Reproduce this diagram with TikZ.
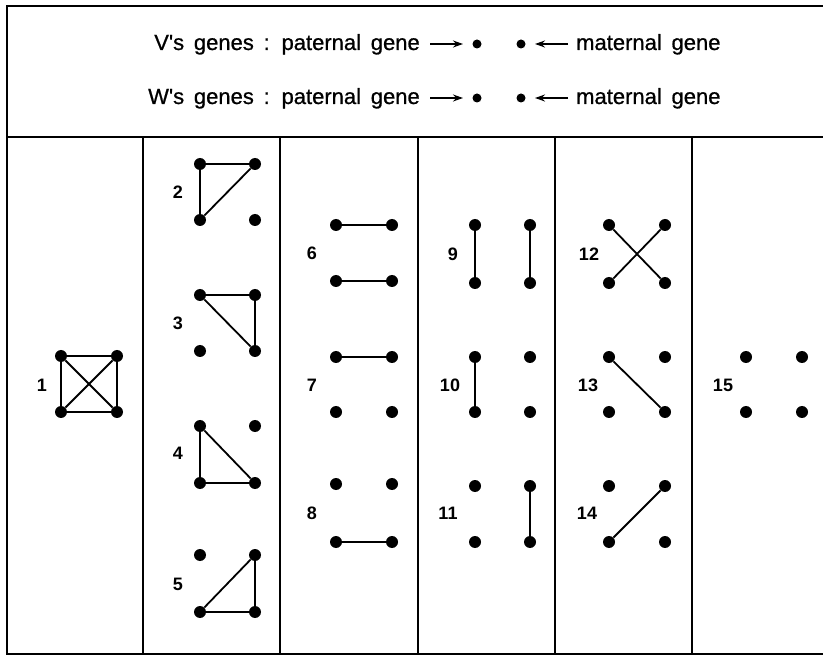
\documentclass[tikz,border=0pt]{standalone}
\usepackage{fontspec}
\setmainfont{Liberation Sans}
\newfontfamily\headfont[WordSpace=1.6,FakeBold=0.8]{Liberation Sans}
\usetikzlibrary{arrows.meta}

% four gene dots of one pattern: name, left x, right x, top y, bottom y
\newcommand\quadset[5]{%
  \node[gdot] (#1tl) at (#2,#4) {};
  \node[gdot] (#1tr) at (#3,#4) {};
  \node[gdot] (#1bl) at (#2,#5) {};
  \node[gdot] (#1br) at (#3,#5) {};
}

\begin{document}
\begin{tikzpicture}[x=1pt,y=-1pt,
  gdot/.style={circle,fill=black,inner sep=0pt,minimum size=12pt},
  hdot/.style={circle,fill=black,inner sep=0pt,minimum size=9pt},
  link/.style={line width=1.8pt},
  rule/.style={line width=2.4pt},
  num/.style={font=\fontsize{18}{18}\selectfont\bfseries,inner sep=0pt},
  head/.style={font=\headfont\fontsize{22}{22}\selectfont,inner sep=0pt},
  pointer/.style={line width=2.2pt,-{Stealth[length=10pt,width=7pt]}}]
\useasboundingbox (0,0) rectangle (823,655);

% frame and table rules
\draw[rule] (823,6) -- (7,6) -- (7,654) -- (823,654);
\draw[rule] (7,137) -- (823,137);
\foreach \xx in {143,280,418,555,692}
  \draw[rule] (\xx,137) -- (\xx,654);

% legend
\node[head,anchor=base east] (vpat) at (420,50) {V's genes : paternal gene};
\node[hdot] (vpd) at (477,44) {};
\node[hdot] (vmd) at (521,44) {};
\node[head,anchor=base west] (vmat) at (576,50) {maternal gene};
\draw[pointer] (vpat.east|-vpd) ++(10,0) coordinate (va1) -- ++(33,0) coordinate (va2);
\draw[pointer] (vmat.west|-vmd) ++(-8,0) coordinate (vb1) -- ++(-33,0) coordinate (vb2);

\node[head,anchor=base east] (wpat) at (420,104) {W's genes : paternal gene};
\node[hdot] (wpd) at (477,98) {};
\node[hdot] (wmd) at (521,98) {};
\node[head,anchor=base west] (wmat) at (576,104) {maternal gene};
\draw[pointer] (wpat.east|-wpd) ++(10,0) coordinate (wa1) -- ++(33,0) coordinate (wa2);
\draw[pointer] (wmat.west|-wmd) ++(-8,0) coordinate (wb1) -- ++(-33,0) coordinate (wb2);

% pattern 1
\quadset{p1}{61}{117}{356}{412}
\node[num] (n1) at (42,385) {1};
\draw[link] (p1tl) -- (p1tr) -- (p1br) -- (p1bl) -- (p1tl);
\draw[link] (p1tl) -- (p1br);
\draw[link] (p1tr) -- (p1bl);

% patterns 2-5
\quadset{p2}{200}{255}{164}{220}
\node[num] (n2) at (178,192) {2};
\draw[link] (p2bl) -- (p2tl) -- (p2tr) -- (p2bl);

\quadset{p3}{200}{255}{295}{351}
\node[num] (n3) at (178,323) {3};
\draw[link] (p3tl) -- (p3tr) -- (p3br) -- (p3tl);

\quadset{p4}{200}{255}{426}{483}
\node[num] (n4) at (178,453) {4};
\draw[link] (p4tl) -- (p4bl) -- (p4br) -- (p4tl);

\quadset{p5}{200}{255}{555}{612}
\node[num] (n5) at (178,584) {5};
\draw[link] (p5bl) -- (p5br) -- (p5tr) -- (p5bl);

% patterns 6-8
\quadset{p6}{336}{392}{225}{281}
\node[num] (n6) at (312,253) {6};
\draw[link] (p6tl) -- (p6tr);
\draw[link] (p6bl) -- (p6br);

\quadset{p7}{336}{392}{357}{412}
\node[num] (n7) at (312,385) {7};
\draw[link] (p7tl) -- (p7tr);

\quadset{p8}{336}{392}{484}{542}
\node[num] (n8) at (312,513) {8};
\draw[link] (p8bl) -- (p8br);

% patterns 9-11
\quadset{p9}{475}{530}{225}{283}
\node[num] (n9) at (453,254) {9};
\draw[link] (p9tl) -- (p9bl);
\draw[link] (p9tr) -- (p9br);

\quadset{p10}{475}{530}{357}{412}
\node[num] (n10) at (450,385) {10};
\draw[link] (p10tl) -- (p10bl);

\quadset{p11}{475}{530}{486}{542}
\node[num] (n11) at (448,513) {11};
\draw[link] (p11tr) -- (p11br);

% patterns 12-14
\quadset{p12}{609}{665}{225}{283}
\node[num] (n12) at (589,254) {12};
\draw[link] (p12tl) -- (p12br);
\draw[link] (p12tr) -- (p12bl);

\quadset{p13}{609}{665}{357}{412}
\node[num] (n13) at (588,385) {13};
\draw[link] (p13tl) -- (p13br);

\quadset{p14}{609}{665}{486}{542}
\node[num] (n14) at (587,513) {14};
\draw[link] (p14bl) -- (p14tr);

% pattern 15
\quadset{p15}{746}{802}{357}{412}
\node[num] (n15) at (723,385) {15};
\end{tikzpicture}
\end{document}
